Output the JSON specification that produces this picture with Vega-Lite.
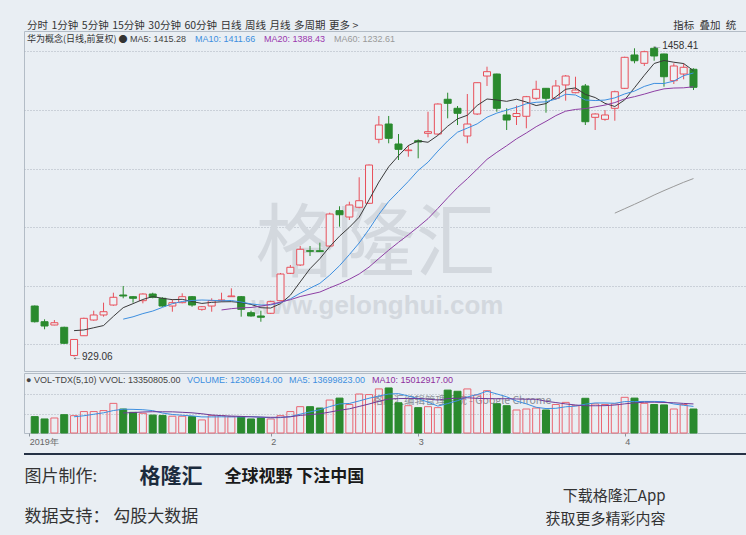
{
  "$schema": "https://vega.github.io/schema/vega-lite/v6.json",
  "background": "#e9eef3",
  "padding": {"left": 22, "top": 20, "right": 0, "bottom": 0},
  "config": {
    "font": "Liberation Sans, Noto Sans CJK SC",
    "view": {"stroke": "#b3bcc6", "strokeWidth": 1},
    "axis": {"labelFont": "Liberation Sans", "titleFont": "Noto Sans CJK SC"},
    "title": {"font": "Noto Sans CJK SC"}
  },
  "datasets": {
    "candles": [
      {"i": 0, "date": "2018-12-27", "open": 1015.5, "high": 1016.4, "low": 987.4, "close": 988.7, "volume": 8400000},
      {"i": 1, "date": "2018-12-28", "open": 988.7, "high": 992.8, "low": 975.8, "close": 981.4, "volume": 7200000},
      {"i": 2, "date": "2019-01-02", "open": 983.1, "high": 991.6, "low": 982.6, "close": 987.0, "volume": 7700000},
      {"i": 3, "date": "2019-01-03", "open": 979.2, "high": 980.2, "low": 950.7, "close": 951.9, "volume": 9400000},
      {"i": 4, "date": "2019-01-04", "open": 931.1, "high": 959.2, "low": 929.06, "close": 958.4, "volume": 8900000},
      {"i": 5, "date": "2019-01-07", "open": 964.8, "high": 995.6, "low": 964.3, "close": 994.5, "volume": 11000000},
      {"i": 6, "date": "2019-01-08", "open": 991.6, "high": 1007.5, "low": 990.4, "close": 1000.2, "volume": 11000000},
      {"i": 7, "date": "2019-01-09", "open": 1000.2, "high": 1021.2, "low": 997.3, "close": 1005.8, "volume": 11500000},
      {"i": 8, "date": "2019-01-10", "open": 1017.2, "high": 1038.2, "low": 1016.0, "close": 1030.4, "volume": 15200000},
      {"i": 9, "date": "2019-01-11", "open": 1034.3, "high": 1049.7, "low": 1028.7, "close": 1032.6, "volume": 12300000},
      {"i": 10, "date": "2019-01-14", "open": 1031.4, "high": 1032.6, "low": 1021.2, "close": 1028.7, "volume": 10600000},
      {"i": 11, "date": "2019-01-15", "open": 1024.6, "high": 1037.2, "low": 1020.1, "close": 1036.0, "volume": 10100000},
      {"i": 12, "date": "2019-01-16", "open": 1036.0, "high": 1038.2, "low": 1028.7, "close": 1030.4, "volume": 9200000},
      {"i": 13, "date": "2019-01-17", "open": 1028.7, "high": 1030.4, "low": 1014.3, "close": 1015.5, "volume": 9000000},
      {"i": 14, "date": "2019-01-18", "open": 1015.5, "high": 1027.0, "low": 1005.8, "close": 1021.2, "volume": 8600000},
      {"i": 15, "date": "2019-01-21", "open": 1021.2, "high": 1037.2, "low": 1020.1, "close": 1031.4, "volume": 8600000},
      {"i": 16, "date": "2019-01-22", "open": 1031.4, "high": 1032.6, "low": 1014.3, "close": 1017.2, "volume": 8400000},
      {"i": 17, "date": "2019-01-23", "open": 1009.9, "high": 1015.5, "low": 1007.5, "close": 1014.3, "volume": 6700000},
      {"i": 18, "date": "2019-01-24", "open": 1015.5, "high": 1028.7, "low": 1005.8, "close": 1024.6, "volume": 8900000},
      {"i": 19, "date": "2019-01-25", "open": 1024.6, "high": 1038.2, "low": 1022.9, "close": 1025.8, "volume": 8900000},
      {"i": 20, "date": "2019-01-28", "open": 1031.4, "high": 1045.7, "low": 1031.0, "close": 1032.6, "volume": 8400000},
      {"i": 21, "date": "2019-01-29", "open": 1031.4, "high": 1032.6, "low": 997.3, "close": 1009.9, "volume": 8400000},
      {"i": 22, "date": "2019-01-30", "open": 1004.1, "high": 1007.5, "low": 997.3, "close": 998.5, "volume": 7200000},
      {"i": 23, "date": "2019-01-31", "open": 998.5, "high": 1007.5, "low": 988.7, "close": 996.3, "volume": 7700000},
      {"i": 24, "date": "2019-02-01", "open": 1003.1, "high": 1024.6, "low": 1001.9, "close": 1022.9, "volume": 7200000},
      {"i": 25, "date": "2019-02-11", "open": 1024.6, "high": 1071.9, "low": 1024.1, "close": 1070.1, "volume": 8900000},
      {"i": 26, "date": "2019-02-12", "open": 1071.3, "high": 1085.5, "low": 1070.1, "close": 1081.6, "volume": 11000000},
      {"i": 27, "date": "2019-02-13", "open": 1085.5, "high": 1117.9, "low": 1083.8, "close": 1112.3, "volume": 13500000},
      {"i": 28, "date": "2019-02-14", "open": 1109.9, "high": 1117.9, "low": 1100.9, "close": 1108.9, "volume": 13500000},
      {"i": 29, "date": "2019-02-15", "open": 1109.9, "high": 1123.6, "low": 1107.9, "close": 1108.4, "volume": 12800000},
      {"i": 30, "date": "2019-02-18", "open": 1117.9, "high": 1174.8, "low": 1116.2, "close": 1172.5, "volume": 16900000},
      {"i": 31, "date": "2019-02-19", "open": 1178.2, "high": 1185.7, "low": 1150.9, "close": 1171.3, "volume": 17900000},
      {"i": 32, "date": "2019-02-20", "open": 1167.4, "high": 1193.5, "low": 1162.3, "close": 1187.9, "volume": 14600000},
      {"i": 33, "date": "2019-02-21", "open": 1184.0, "high": 1235.2, "low": 1182.3, "close": 1195.2, "volume": 20000000},
      {"i": 34, "date": "2019-02-22", "open": 1190.8, "high": 1257.0, "low": 1189.6, "close": 1256.1, "volume": 19700000},
      {"i": 35, "date": "2019-02-25", "open": 1300.0, "high": 1339.8, "low": 1293.2, "close": 1324.4, "volume": 22600000},
      {"i": 36, "date": "2019-02-26", "open": 1326.1, "high": 1339.8, "low": 1293.2, "close": 1301.7, "volume": 23100000},
      {"i": 37, "date": "2019-02-27", "open": 1292.0, "high": 1309.0, "low": 1264.7, "close": 1282.9, "volume": 15500000},
      {"i": 38, "date": "2019-02-28", "open": 1280.6, "high": 1290.3, "low": 1270.3, "close": 1281.7, "volume": 14000000},
      {"i": 39, "date": "2019-03-01", "open": 1297.6, "high": 1300.0, "low": 1267.6, "close": 1295.4, "volume": 13000000},
      {"i": 40, "date": "2019-03-04", "open": 1310.2, "high": 1347.1, "low": 1303.4, "close": 1313.0, "volume": 13500000},
      {"i": 41, "date": "2019-03-05", "open": 1309.0, "high": 1361.4, "low": 1307.3, "close": 1360.2, "volume": 13000000},
      {"i": 42, "date": "2019-03-06", "open": 1368.3, "high": 1379.5, "low": 1335.8, "close": 1361.4, "volume": 22000000},
      {"i": 43, "date": "2019-03-07", "open": 1352.9, "high": 1356.8, "low": 1324.4, "close": 1344.4, "volume": 21400000},
      {"i": 44, "date": "2019-03-08", "open": 1305.6, "high": 1377.3, "low": 1293.2, "close": 1326.1, "volume": 22600000},
      {"i": 45, "date": "2019-03-11", "open": 1343.2, "high": 1396.9, "low": 1341.5, "close": 1396.6, "volume": 19500000},
      {"i": 46, "date": "2019-03-12", "open": 1408.0, "high": 1423.9, "low": 1391.0, "close": 1415.4, "volume": 21700000},
      {"i": 47, "date": "2019-03-13", "open": 1411.4, "high": 1412.0, "low": 1347.1, "close": 1352.9, "volume": 15000000},
      {"i": 48, "date": "2019-03-14", "open": 1341.5, "high": 1352.9, "low": 1315.9, "close": 1332.9, "volume": 14000000},
      {"i": 49, "date": "2019-03-15", "open": 1338.9, "high": 1357.7, "low": 1324.4, "close": 1344.0, "volume": 11800000},
      {"i": 50, "date": "2019-03-18", "open": 1339.3, "high": 1374.0, "low": 1318.8, "close": 1372.7, "volume": 12300000},
      {"i": 51, "date": "2019-03-19", "open": 1370.0, "high": 1400.0, "low": 1367.1, "close": 1385.3, "volume": 12800000},
      {"i": 52, "date": "2019-03-20", "open": 1387.0, "high": 1387.5, "low": 1345.4, "close": 1370.0, "volume": 11800000},
      {"i": 53, "date": "2019-03-21", "open": 1370.0, "high": 1401.2, "low": 1367.1, "close": 1391.0, "volume": 14600000},
      {"i": 54, "date": "2019-03-22", "open": 1392.7, "high": 1409.7, "low": 1365.9, "close": 1408.0, "volume": 15700000},
      {"i": 55, "date": "2019-03-25", "open": 1379.5, "high": 1406.8, "low": 1378.5, "close": 1384.1, "volume": 14000000},
      {"i": 56, "date": "2019-03-26", "open": 1391.0, "high": 1394.4, "low": 1324.4, "close": 1330.0, "volume": 17800000},
      {"i": 57, "date": "2019-03-27", "open": 1337.5, "high": 1344.4, "low": 1315.9, "close": 1343.2, "volume": 14900000},
      {"i": 58, "date": "2019-03-28", "open": 1334.1, "high": 1350.0, "low": 1331.7, "close": 1341.5, "volume": 14600000},
      {"i": 59, "date": "2019-03-29", "open": 1352.9, "high": 1383.0, "low": 1331.7, "close": 1381.2, "volume": 14900000},
      {"i": 60, "date": "2019-04-01", "open": 1387.0, "high": 1441.0, "low": 1385.8, "close": 1439.9, "volume": 18300000},
      {"i": 61, "date": "2019-04-02", "open": 1443.9, "high": 1455.3, "low": 1429.7, "close": 1434.1, "volume": 17900000},
      {"i": 62, "date": "2019-04-03", "open": 1429.7, "high": 1451.2, "low": 1425.1, "close": 1449.5, "volume": 15200000},
      {"i": 63, "date": "2019-04-04", "open": 1455.3, "high": 1458.41, "low": 1434.1, "close": 1442.2, "volume": 14600000},
      {"i": 64, "date": "2019-04-08", "open": 1445.6, "high": 1446.0, "low": 1389.8, "close": 1406.8, "volume": 14400000},
      {"i": 65, "date": "2019-04-09", "open": 1400.0, "high": 1429.7, "low": 1394.4, "close": 1425.1, "volume": 12300000},
      {"i": 66, "date": "2019-04-10", "open": 1411.4, "high": 1429.7, "low": 1402.4, "close": 1422.9, "volume": 14600000},
      {"i": 67, "date": "2019-04-11", "open": 1419.5, "high": 1421.2, "low": 1384.1, "close": 1388.7, "volume": 12306914}
    ],
    "marks": [
      {"i": 4, "price": 929.06, "label": "←929.06"},
      {"i": 63, "price": 1458.41, "label": "←1458.41"}
    ]
  },
  "spacing": 5,
  "vconcat": [
    {
      "spacing": 0,
      "resolve": {
        "scale": {"x": "independent", "y": "independent", "color": "independent", "stroke": "independent"},
        "legend": {"color": "independent", "stroke": "independent"}
      },
      "vconcat": [
        {
          "width": 724,
          "height": 340,
          "title": {
            "text": "分时\u20041分钟\u20045分钟\u200415分钟\u200430分钟\u200460分钟\u2004日线\u2004周线\u2004月线\u2004多周期\u2004更多 >\u2003\u2003\u2003\u2003\u2003\u2003\u2003\u2003\u2003\u2003\u2003\u2003\u2003\u2003\u2003\u2003\u2003\u2003\u2003\u2003\u2003\u2003\u2003\u2003\u2003\u2003\u2003\u2003\u2003\u2003指标\u2002叠加\u2002统",
            "anchor": "start",
            "frame": "group",
            "fontSize": 10.5,
            "fontWeight": "normal",
            "color": "#333333",
            "offset": 0,
            "dx": 3
          },
          "data": {"name": "candles"},
          "encoding": {
            "x": {
              "field": "i",
              "type": "quantitative",
              "scale": {"domain": [-0.5817, 72.036], "nice": false, "zero": false},
              "axis": {
                "orient": "top",
                "labels": false,
                "ticks": false,
                "domain": false,
                "grid": false,
                "title": "格隆汇",
                "titleX": 351,
                "titleY": 214,
                "titleAlign": "center",
                "titleBaseline": "middle",
                "titleFontSize": 80,
                "titleFontWeight": "normal",
                "titleColor": "#d3d8de"
              }
            }
          },
          "layer": [
            {
              "mark": {"type": "rule", "strokeWidth": 1},
              "encoding": {
                "y": {
                  "field": "low",
                  "type": "quantitative",
                  "scale": {"domain": [904.61, 1484.82], "nice": false, "zero": false},
                  "axis": {
                    "values": [950, 1000, 1050, 1100, 1150, 1200, 1250, 1300, 1350, 1400, 1450],
                    "grid": true,
                    "gridDash": [1, 2],
                    "gridColor": "#aab3bd",
                    "labels": false,
                    "ticks": false,
                    "domain": false,
                    "title": "www.gelonghui.com",
                    "titleAngle": 0,
                    "titleX": 353,
                    "titleY": 274,
                    "titleAlign": "center",
                    "titleBaseline": "middle",
                    "titleFont": "Liberation Sans",
                    "titleFontSize": 26,
                    "titleFontWeight": "bold",
                    "titleColor": "#d3d8de"
                  }
                },
                "y2": {"field": "high"},
                "stroke": {"condition": {"test": "datum.close > datum.open", "value": "#e8505b"}, "value": "#2a8a2e"}
              }
            },
            {
              "mark": {"type": "bar", "width": 7, "strokeWidth": 1},
              "encoding": {
                "y": {"field": "open", "type": "quantitative"},
                "y2": {"field": "close"},
                "fill": {"condition": {"test": "datum.close > datum.open", "value": "#edf1f5"}, "value": "#2a8a2e"},
                "stroke": {"condition": {"test": "datum.close > datum.open", "value": "#e8505b"}, "value": "#2a8a2e"}
              }
            },
            {
              "transform": [
                {"window": [{"op": "mean", "field": "close", "as": "MA5"}], "sort": [{"field": "i"}], "frame": [-4, 0]},
                {"window": [{"op": "mean", "field": "close", "as": "MA10"}], "sort": [{"field": "i"}], "frame": [-9, 0]},
                {"window": [{"op": "mean", "field": "close", "as": "MA20"}], "sort": [{"field": "i"}], "frame": [-19, 0]},
                {"window": [{"op": "mean", "field": "close", "as": "MA60"}], "sort": [{"field": "i"}], "frame": [-59, 0]},
                {"fold": ["MA5", "MA10", "MA20", "MA60"], "as": ["series", "ma"]},
                {"filter": "(datum.series == 'MA5' && datum.i >= 4) || (datum.series == 'MA10' && datum.i >= 9) || (datum.series == 'MA20' && datum.i >= 19) || (datum.series == 'MA60' && datum.i >= 59)"}
              ],
              "mark": {"type": "line", "strokeWidth": 1},
              "encoding": {
                "y": {"field": "ma", "type": "quantitative"},
                "order": {"field": "i"},
                "color": {
                  "field": "series",
                  "type": "nominal",
                  "scale": {"domain": ["MA5", "MA10", "MA20", "MA60"], "range": ["#3a3a3a", "#3d8fe0", "#8e3fa4", "#9a9a9a"]},
                  "legend": {
                    "title": "华为概念(日线,前复权) ●",
                    "orient": "top-left",
                    "offset": 3,
                    "padding": 0,
                    "direction": "horizontal",
                    "gridAlign": "none",
                    "titleOrient": "left",
                    "titleFont": "Noto Sans CJK SC",
                    "titleFontSize": 9,
                    "titleFontWeight": "normal",
                    "titleColor": "#333333",
                    "titlePadding": 3,
                    "labelFont": "Liberation Sans",
                    "labelFontSize": 9,
                    "labelOffset": -10,
                    "labelLimit": 200,
                    "columnPadding": 8,
                    "symbolType": "circle",
                    "symbolSize": 0,
                    "symbolStrokeWidth": 0,
                    "symbolOpacity": 0,
                    "labelExpr": "datum.value == 'MA5' ? 'MA5: 1415.28' : datum.value == 'MA10' ? 'MA10: 1411.66' : datum.value == 'MA20' ? 'MA20: 1388.43' : 'MA60: 1232.61'",
                    "encode": {"labels": {"update": {"fill": {"signal": "datum.value == 'MA5' ? '#444444' : datum.value == 'MA10' ? '#3d8fe0' : datum.value == 'MA20' ? '#9b36ae' : '#9a9a9a'"}}}}
                  }
                }
              }
            },
            {
              "data": {"name": "marks"},
              "mark": {"type": "text", "align": "left", "baseline": "middle", "dx": -2, "fontSize": 10, "font": "Liberation Sans", "color": "#333333"},
              "encoding": {
                "y": {"field": "price", "type": "quantitative"},
                "text": {"field": "label"}
              }
            }
          ]
        },
        {
          "width": 724,
          "height": 60,
          "data": {"name": "candles"},
          "encoding": {
            "x": {
              "field": "i",
              "type": "quantitative",
              "scale": {"domain": [-0.5817, 72.036], "nice": false, "zero": false},
              "axis": {
                "orient": "bottom",
                "values": [-0.55, 24, 39, 60],
                "labelExpr": "datum.value < 0 ? '2019年' : datum.value == 24 ? '2' : datum.value == 39 ? '3' : '4'",
                "grid": false,
                "domain": false,
                "ticks": true,
                "tickSize": 3,
                "tickColor": "#8a939c",
                "labelAlign": "left",
                "labelBaseline": "top",
                "labelPadding": 1,
                "labelFontSize": 9,
                "labelColor": "#666666",
                "labelFlush": false,
                "title": "格隆汇编辑管理系统 - Google Chrome",
                "titleX": 348,
                "titleY": -33,
                "titleAlign": "left",
                "titleBaseline": "middle",
                "titleFontSize": 10.5,
                "titleFontWeight": "normal",
                "titleColor": "#8a8f96"
              }
            }
          },
          "layer": [
            {
              "mark": {"type": "bar", "width": 7, "strokeWidth": 1},
              "encoding": {
                "y": {
                  "field": "volume",
                  "type": "quantitative",
                  "scale": {"domain": [0, 30770000], "nice": false},
                  "axis": {"values": [10000000, 20000000], "grid": true, "gridDash": [1, 2], "gridColor": "#aab3bd", "labels": false, "ticks": false, "domain": false, "title": null}
                },
                "fill": {"condition": {"test": "datum.close > datum.open", "value": "transparent"}, "value": "#2a8a2e"},
                "stroke": {"condition": {"test": "datum.close > datum.open", "value": "#ea6672"}, "value": "#2a8a2e"}
              }
            },
            {
              "transform": [
                {"window": [{"op": "mean", "field": "volume", "as": "MA5"}], "sort": [{"field": "i"}], "frame": [-4, 0]},
                {"window": [{"op": "mean", "field": "volume", "as": "MA10"}], "sort": [{"field": "i"}], "frame": [-9, 0]},
                {"fold": ["MA5", "MA10"], "as": ["series", "ma"]},
                {"filter": "(datum.series == 'MA5' && datum.i >= 4) || (datum.series == 'MA10' && datum.i >= 9)"}
              ],
              "mark": {"type": "line", "strokeWidth": 1},
              "encoding": {
                "y": {"field": "ma", "type": "quantitative"},
                "order": {"field": "i"},
                "stroke": {
                  "field": "series",
                  "type": "nominal",
                  "scale": {"domain": ["VVOL", "VOLUME", "MA5", "MA10"], "range": ["#444444", "#3d8fe0", "#3d8fe0", "#6e3a96"]},
                  "legend": {
                    "title": "● VOL-TDX(5,10)",
                    "orient": "top-left",
                    "offset": 2,
                    "padding": 0,
                    "direction": "horizontal",
                    "gridAlign": "none",
                    "titleOrient": "left",
                    "titleFont": "Liberation Sans",
                    "titleFontSize": 9,
                    "titleFontWeight": "normal",
                    "titleColor": "#444444",
                    "titlePadding": 3,
                    "labelFont": "Liberation Sans",
                    "labelFontSize": 9,
                    "labelOffset": -10,
                    "labelLimit": 200,
                    "columnPadding": 6,
                    "symbolType": "circle",
                    "symbolSize": 0,
                    "symbolStrokeWidth": 0,
                    "symbolOpacity": 0,
                    "labelExpr": "datum.value == 'VVOL' ? 'VVOL: 13350805.00' : datum.value == 'VOLUME' ? 'VOLUME: 12306914.00' : datum.value == 'MA5' ? 'MA5: 13699823.00' : 'MA10: 15012917.00'",
                    "encode": {"labels": {"update": {"fill": {"signal": "datum.value == 'VVOL' ? '#444444' : datum.value == 'MA10' ? '#8e2f9e' : '#3d8fe0'"}}}}
                  }
                }
              }
            }
          ]
        }
      ]
    },
    {
      "width": 724,
      "height": 84,
      "view": {"stroke": "#18263a", "strokeWidth": 1.5, "strokeDash": [724, 3000]},
      "resolve": {"scale": {"x": "independent", "y": "independent"}, "axis": {"x": "independent", "y": "independent"}},
      "layer": [
        {
          "data": {"name": "marks"},
          "transform": [{"aggregate": [{"op": "count", "as": "n"}]}],
          "mark": {"type": "rule", "color": "#18263a", "strokeWidth": 1.5},
          "encoding": {
            "x": {
              "datum": 0, "type": "quantitative", "scale": {"domain": [0, 1]},
              "axis": {
                "orient": "top", "domain": false,
                "labels": false, "ticks": false, "grid": false,
                "title": "全球视野 下注中国", "titleX": 200, "titleY": 22, "titleAlign": "left", "titleBaseline": "middle",
                "titleFontSize": 17, "titleFontWeight": "bold", "titleColor": "#1a1a1a"
              }
            },
            "x2": {"datum": 1},
            "y": {
              "datum": 1, "type": "quantitative", "scale": {"domain": [0, 1], "nice": false},
              "axis": {
                "orient": "left", "domain": false, "labels": false, "ticks": false, "grid": false,
                "title": ["图片制作:", "数据支持：  勾股大数据"], "titleAngle": 0, "titleX": 0, "titleY": 22,
                "titleAlign": "left", "titleBaseline": "middle", "titleLineHeight": 40,
                "titleFontSize": 17, "titleFontWeight": "normal", "titleColor": "#333333"
              }
            }
          }
        },
        {
          "data": {"values": []},
          "mark": {"type": "point", "opacity": 0},
          "encoding": {
            "x": {
              "field": "a", "type": "quantitative", "scale": {"domain": [0, 1]},
              "axis": {
                "orient": "bottom", "domain": false, "labels": false, "ticks": false, "grid": false,
                "title": "格隆汇", "titleX": 115, "titleY": -62, "titleAlign": "left", "titleBaseline": "middle",
                "titleFontSize": 21, "titleFontWeight": "bold", "titleColor": "#1c2b3d"
              }
            },
            "y": {
              "field": "c", "type": "quantitative", "scale": {"domain": [0, 1]},
              "axis": {
                "orient": "right", "domain": false, "labels": false, "ticks": false, "grid": false,
                "title": ["下载格隆汇App", "获取更多精彩内容"], "titleAngle": 0, "titleX": -83, "titleY": 41,
                "titleAlign": "right", "titleBaseline": "middle", "titleLineHeight": 23,
                "titleFontSize": 15, "titleFontWeight": "normal", "titleColor": "#333333"
              }
            }
          }
        }
      ]
    }
  ]
}
